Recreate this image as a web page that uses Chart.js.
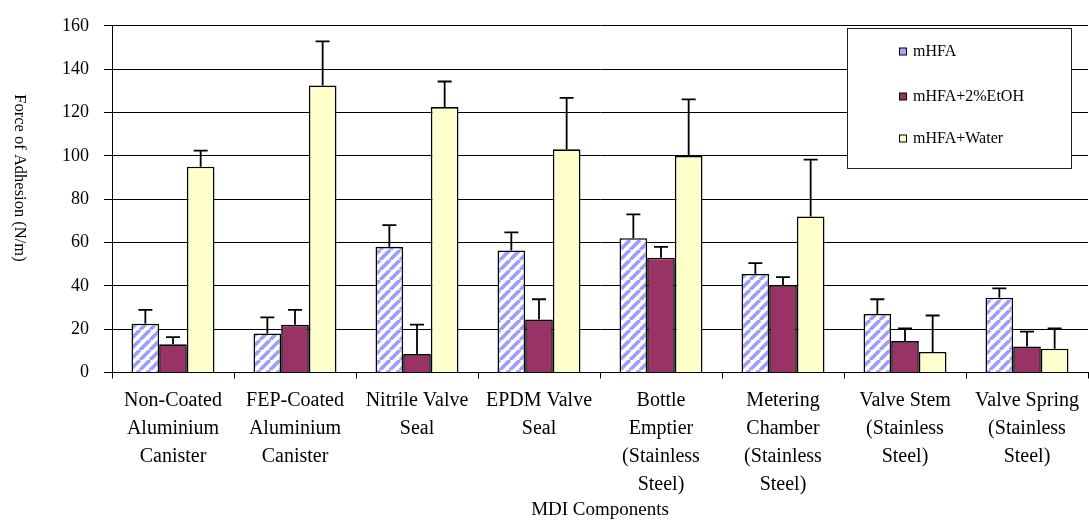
<!DOCTYPE html>
<html>
<head>
<meta charset="utf-8">
<script src="https://cdn.jsdelivr.net/npm/chart.js@4/dist/chart.umd.min.js"></script>
<style>
  html, body { margin: 0; padding: 0; background: #fff; }
  #wrap { width: 1089px; height: 521px; position: relative; }
</style>
</head>
<body>
<div id="wrap"><canvas id="c"></canvas></div>
<script>
// Component categories (multi-line tick labels)
const categories = [
  ['Non-Coated', 'Aluminium', 'Canister'],
  ['FEP-Coated', 'Aluminium', 'Canister'],
  ['Nitrile Valve', 'Seal'],
  ['EPDM Valve', 'Seal'],
  ['Bottle', 'Emptier', '(Stainless', 'Steel)'],
  ['Metering', 'Chamber', '(Stainless', 'Steel)'],
  ['Valve Stem', '(Stainless', 'Steel)'],
  ['Valve Spring', '(Stainless', 'Steel)']
];
const seriesNames = ['mHFA', 'mHFA+2%EtOH', 'mHFA+Water'];

// Mean force of adhesion (N/m)
const mhfa      = [22.5, 18.0, 58.0, 56.3, 62.0, 45.5, 27.0, 34.5];
const mhfaEtoh  = [13.0, 22.0,  8.5, 24.5, 53.0, 40.3, 14.5, 12.0];
const mhfaWater = [95.0, 132.5, 122.5, 103.0, 100.0, 72.0, 9.5, 11.0];

// Upper error bars (N/m above the mean)
const mhfaErr      = [6.4, 7.4, 10.0, 8.4, 11.0, 5.0, 6.8, 4.3];
const mhfaEtohErr  = [3.3, 6.9, 13.6, 9.3, 5.0, 3.7, 5.9, 6.9];
const mhfaWaterErr = [7.4, 20.3, 11.8, 23.7, 26.0, 26.2, 16.8, 9.4];

// Y axis ticks
const yMin = 0, yMax = 160, yStep = 20;

const FONT = '"Liberation Serif", "Times New Roman", serif';

// Diagonal blue/white hatch used for the mHFA series
function hatch() {
  const s = 10;
  const c = document.createElement('canvas');
  c.width = s; c.height = s;
  const g = c.getContext('2d');
  g.fillStyle = '#ffffff';
  g.fillRect(0, 0, s, s);
  g.strokeStyle = '#9c9cff';
  g.lineWidth = 3.6;
  g.beginPath();
  for (const k of [-s, 0, s]) {
    g.moveTo(k, s);
    g.lineTo(k + s, 0);
  }
  g.stroke();
  return g.createPattern(c, 'repeat');
}
const hatchPattern = hatch();

// Error bars: vertical line from bar top up to mean + error, with a cap
const errorBars = {
  id: 'errorBars',
  afterDatasetsDraw(chart) {
    const ctx = chart.ctx;
    const y = chart.scales.y;
    ctx.save();
    ctx.strokeStyle = '#000';
    ctx.lineWidth = 1.8;
    chart.data.datasets.forEach((ds, i) => {
      const meta = chart.getDatasetMeta(i);
      meta.data.forEach((bar, j) => {
        const top = y.getPixelForValue(ds.data[j] + ds.errors[j]);
        const half = 7;
        ctx.beginPath();
        ctx.moveTo(bar.x, bar.y);
        ctx.lineTo(bar.x, top);
        ctx.moveTo(bar.x - half, top);
        ctx.lineTo(bar.x + half, top);
        ctx.stroke();
      });
    });
    ctx.restore();
  }
};

// Boxed legend inside the plot and the rotated y-axis title
const decorations = {
  id: 'decorations',
  afterDraw(chart) {
    const ctx = chart.ctx;
    ctx.save();
    // legend box
    const bx = 847.5, by = 28.5, bw = 224, bh = 140;
    ctx.fillStyle = '#fff';
    ctx.fillRect(bx, by, bw, bh);
    ctx.strokeStyle = '#222';
    ctx.lineWidth = 1;
    ctx.strokeRect(bx, by, bw, bh);
    const rows = [52, 97, 139];
    ctx.font = '16px ' + FONT;
    ctx.textBaseline = 'middle';
    ctx.textAlign = 'left';
    chart.data.datasets.forEach((ds, i) => {
      const ry = rows[i];
      ctx.fillStyle = ds.legendColor;
      ctx.fillRect(899.5, ry - 4, 7, 7);
      ctx.strokeStyle = '#000';
      ctx.strokeRect(899.5, ry - 4, 7, 7);
      ctx.fillStyle = '#000';
      ctx.fillText(ds.label, 913, ry);
    });
    // y-axis title
    ctx.translate(19, 178);
    ctx.rotate(Math.PI / 2);
    ctx.textAlign = 'center';
    ctx.font = '16.5px ' + FONT;
    ctx.fillText('Force of Adhesion (N/m)', 0, 0);
    ctx.restore();
  }
};

Chart.defaults.color = '#000';
Chart.defaults.font.family = FONT;

new Chart(document.getElementById('c'), {
  type: 'bar',
  data: {
    labels: categories,
    datasets: [
      { label: seriesNames[0], data: mhfa, errors: mhfaErr,
        backgroundColor: hatchPattern, legendColor: '#a6a6ff' },
      { label: seriesNames[1], data: mhfaEtoh, errors: mhfaEtohErr,
        backgroundColor: '#993366', legendColor: '#993366' },
      { label: seriesNames[2], data: mhfaWater, errors: mhfaWaterErr,
        backgroundColor: '#ffffcc', legendColor: '#ffffcc' }
    ]
  },
  options: {
    responsive: true,
    maintainAspectRatio: false,
    animation: false,
    devicePixelRatio: 1,
    layout: { padding: { top: 21, right: 1, bottom: 0, left: 0 } },
    datasets: {
      bar: {
        borderColor: '#000',
        borderWidth: 1.6,
        categoryPercentage: 0.68,
        barPercentage: 1.0
      }
    },
    plugins: {
      legend: { display: false },
      tooltip: { enabled: false }
    },
    scales: {
      x: {
        offset: true,
        grid: {
          display: true,
          drawOnChartArea: false,
          offset: true,
          color: '#000',
          tickLength: 6,
          tickWidth: 1
        },
        border: { display: true, color: '#000', width: 1 },
        ticks: {
          maxRotation: 0,
          autoSkip: false,
          padding: 8,
          font: { size: 20, lineHeight: 1.4 }
        },
        title: {
          display: true,
          text: 'MDI Components',
          font: { size: 19 },
          padding: { top: 0, bottom: 0 }
        },
        afterFit(s) { s.height = 148.5; }
      },
      y: {
        min: yMin,
        max: yMax,
        grid: {
          color: '#000',
          lineWidth: 1,
          tickLength: 8,
          tickColor: '#000'
        },
        border: { display: true, color: '#000', width: 1 },
        ticks: {
          stepSize: yStep,
          padding: 15,
          font: { size: 18 }
        },
        afterFit(s) { s.width = 112; }
      }
    }
  },
  plugins: [errorBars, decorations]
});
</script>
</body>
</html>
